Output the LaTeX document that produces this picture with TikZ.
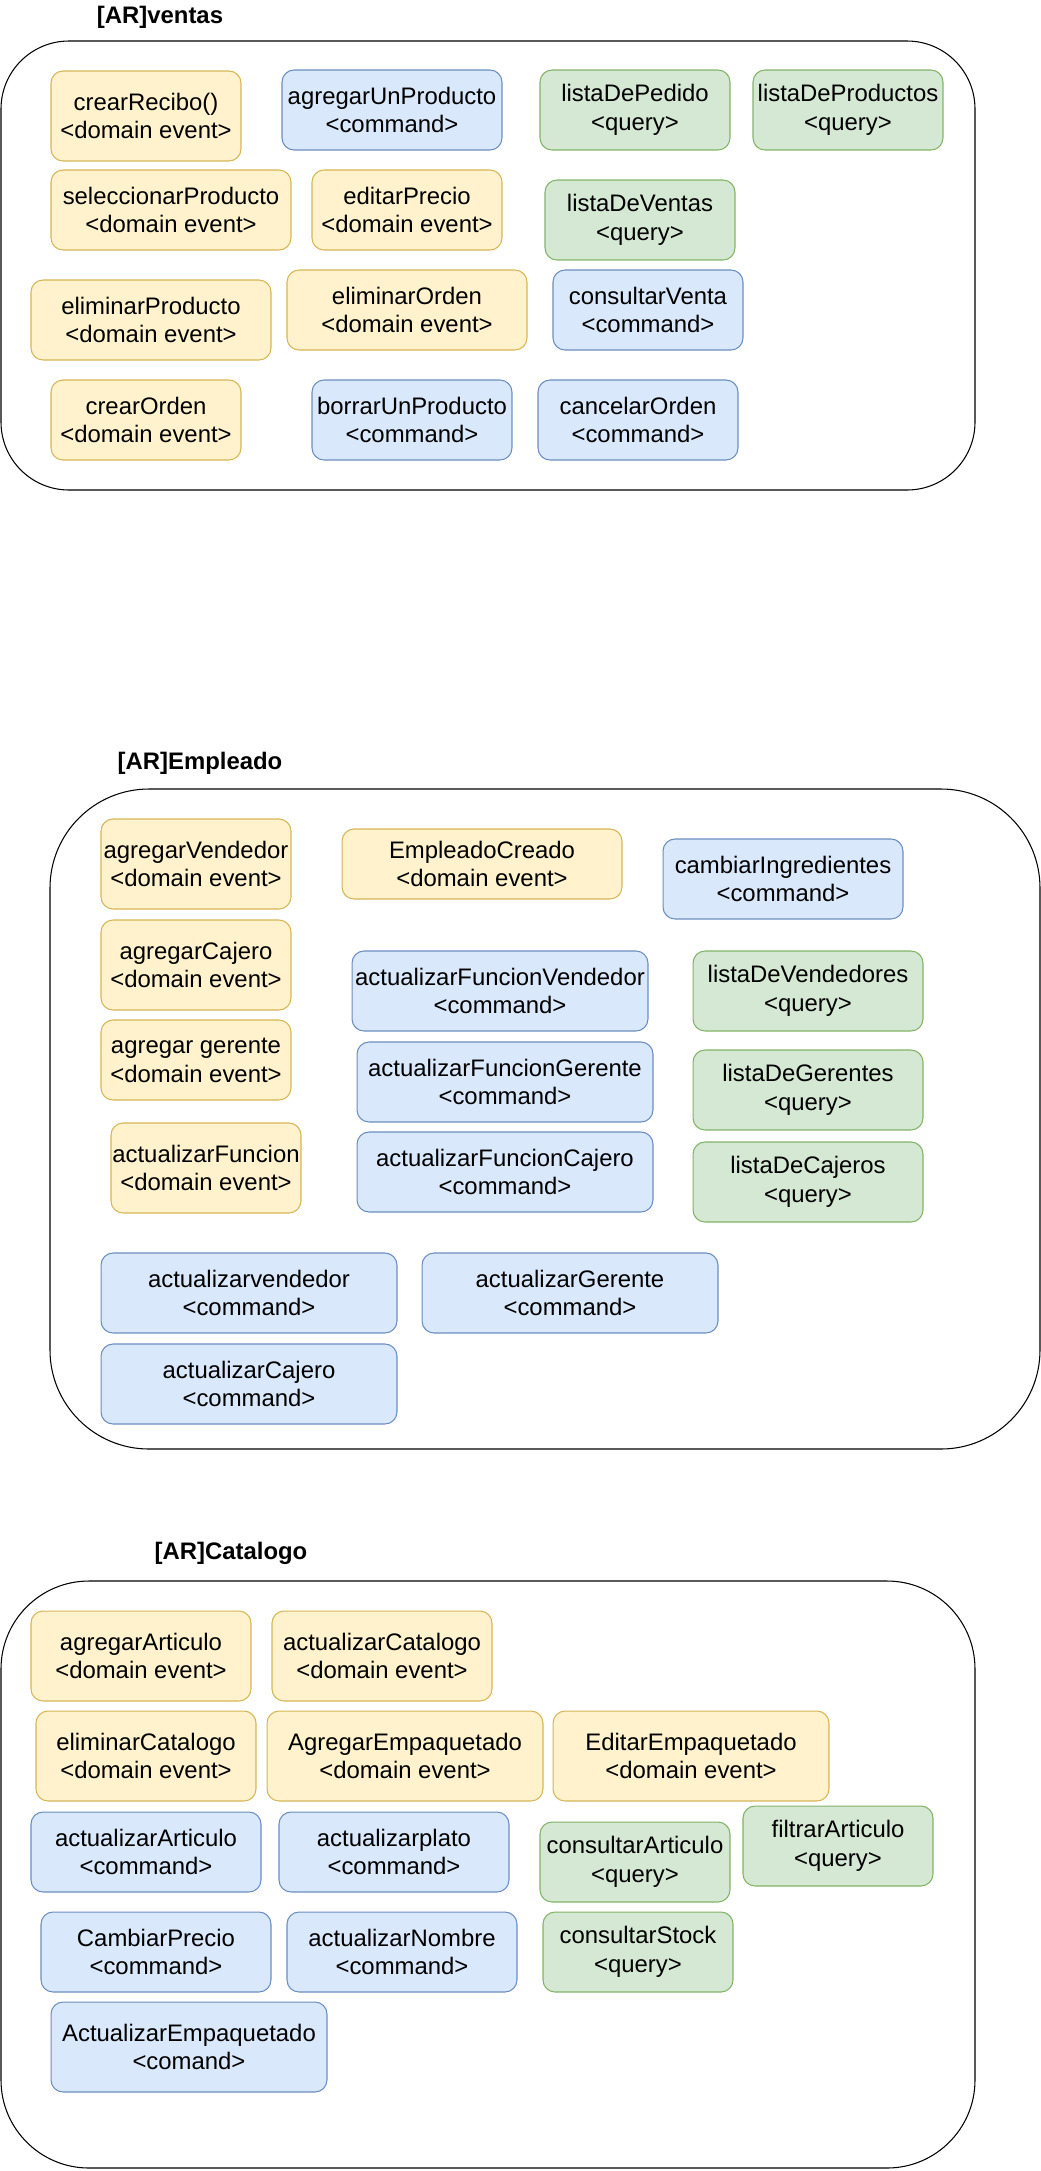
\documentclass[tikz,border=0pt]{standalone}
\usepackage{fontspec}
\setmainfont{Liberation Sans}
\usepackage{tikz}
\usetikzlibrary{positioning}
\usepackage{xcolor}
\definecolor{evfill}{HTML}{FFF2CC}
\definecolor{evline}{HTML}{D6B656}
\definecolor{cmdfill}{HTML}{DAE8FC}
\definecolor{cmdline}{HTML}{6C8EBF}
\definecolor{qryfill}{HTML}{D5E8D4}
\definecolor{qryline}{HTML}{82B366}
\tikzstyle{container} = [draw=black, line width=0.6pt]

\begin{document}
\begin{tikzpicture}[
    x=0.02cm, y=-0.02cm,
    every node/.style={font=\fontsize{13.6pt}{16.4pt}\selectfont},
    sticky/.style={rectangle, rounded corners=0.24cm, line width=0.6pt, align=center, inner sep=0pt, minimum height=1.6cm},
    evt/.style={sticky, draw=evline, fill=evfill},
    cmd/.style={sticky, draw=cmdline, fill=cmdfill},
    qry/.style={sticky, draw=qryline, fill=qryfill},
    title/.style={font=\fontsize{13.6pt}{16.4pt}\selectfont\bfseries}
]
\useasboundingbox (0,0) rectangle (1041,2171);

% [AR]ventas
\node[title] (tventas) at (160,17) {[AR]ventas};
\draw[container, rounded corners=1.36cm] (1,41) rectangle (975,490);

\node[evt, minimum width=3.8cm, minimum height=1.8cm] (crearRecibo) at (146,116) {crearRecibo()\\<domain event>};
\node[cmd, minimum width=4.4cm] (agregarUnProducto) at (392,110) {agregarUnProducto\\<command>};
\node[qry, minimum width=3.8cm] (listaDePedido) at (635,110) {listaDePedido\\<query>};
\node[qry, minimum width=3.8cm] (listaDeProductos) at (848,110) {listaDeProductos\\<query>};
\node[evt, minimum width=4.8cm] (seleccionarProducto) at (171,210) {seleccionarProducto\\<domain event>};
\node[evt, minimum width=3.8cm] (editarPrecio) at (407,210) {editarPrecio\\<domain event>};
\node[qry, minimum width=3.8cm] (listaDeVentas) at (640,220) {listaDeVentas\\<query>};
\node[evt, minimum width=4.8cm] (eliminarProducto) at (151,320) {eliminarProducto\\<domain event>};
\node[evt, minimum width=4.8cm] (eliminarOrden) at (407,310) {eliminarOrden\\<domain event>};
\node[cmd, minimum width=3.8cm] (consultarVenta) at (648,310) {consultarVenta\\<command>};
\node[evt, minimum width=3.8cm] (crearOrden) at (146,420) {crearOrden\\<domain event>};
\node[cmd, minimum width=4.0cm] (borrarUnProducto) at (412,420) {borrarUnProducto\\<command>};
\node[cmd, minimum width=4.0cm] (cancelarOrden) at (638,420) {cancelarOrden\\<command>};

% [AR]Empleado
\node[title] (templeado) at (200,763) {[AR]Empleado};
\draw[container, rounded corners=1.98cm] (50,789) rectangle (1040,1449);

\node[evt, minimum width=3.8cm, minimum height=1.8cm] (agregarVendedor) at (196,864) {agregarVendedor\\<domain event>};
\node[evt, minimum width=5.6cm, minimum height=1.4cm] (empleadoCreado) at (482,864) {EmpleadoCreado\\<domain event>};
\node[cmd, minimum width=4.8cm] (cambiarIngredientes) at (783,879) {cambiarIngredientes\\<command>};
\node[evt, minimum width=3.8cm, minimum height=1.8cm] (agregarCajero) at (196,965) {agregarCajero\\<domain event>};
\node[cmd, minimum width=5.92cm] (actFuncionVendedor) at (500,991) {actualizarFuncionVendedor\\<command>};
\node[qry, minimum width=4.6cm] (listaDeVendedores) at (808,991) {listaDeVendedores\\<query>};
\node[evt, minimum width=3.8cm] (agregarGerente) at (196,1060) {agregar gerente\\<domain event>};
\node[cmd, minimum width=5.92cm] (actFuncionGerente) at (505,1082) {actualizarFuncionGerente\\<command>};
\node[qry, minimum width=4.6cm] (listaDeGerentes) at (808,1090) {listaDeGerentes\\<query>};
\node[evt, minimum width=3.8cm, minimum height=1.8cm] (actFuncion) at (206,1168) {actualizarFuncion\\<domain event>};
\node[cmd, minimum width=5.92cm] (actFuncionCajero) at (505,1172) {actualizarFuncionCajero\\<command>};
\node[qry, minimum width=4.6cm] (listaDeCajeros) at (808,1182) {listaDeCajeros\\<query>};
\node[cmd, minimum width=5.92cm] (actVendedor) at (249,1293) {actualizarvendedor\\<command>};
\node[cmd, minimum width=5.92cm] (actGerente) at (570,1293) {actualizarGerente\\<command>};
\node[cmd, minimum width=5.92cm] (actCajero) at (249,1384) {actualizarCajero\\<command>};

% [AR]Catalogo
\node[title] (tcatalogo) at (231,1553) {[AR]Catalogo};
\draw[container, rounded corners=1.76cm] (1,1581) rectangle (975,2168);

\node[evt, minimum width=4.4cm, minimum height=1.8cm] (agregarArticulo) at (141,1656) {agregarArticulo\\<domain event>};
\node[evt, minimum width=4.4cm, minimum height=1.8cm] (actCatalogo) at (382,1656) {actualizarCatalogo\\<domain event>};
\node[evt, minimum width=4.4cm, minimum height=1.8cm] (eliminarCatalogo) at (146,1756) {eliminarCatalogo\\<domain event>};
\node[evt, minimum width=5.52cm, minimum height=1.8cm] (agregarEmpaq) at (405,1756) {AgregarEmpaquetado\\<domain event>};
\node[evt, minimum width=5.52cm, minimum height=1.8cm] (editarEmpaq) at (691,1756) {EditarEmpaquetado\\<domain event>};
\node[cmd, minimum width=4.6cm] (actArticulo) at (146,1852) {actualizarArticulo\\<command>};
\node[cmd, minimum width=4.6cm] (actPlato) at (394,1852) {actualizarplato\\<command>};
\node[qry, minimum width=3.8cm] (consultarArticulo) at (635,1862) {consultarArticulo\\<query>};
\node[qry, minimum width=3.8cm] (filtrarArticulo) at (838,1846) {filtrarArticulo\\<query>};
\node[cmd, minimum width=4.6cm] (cambiarPrecio) at (156,1952) {CambiarPrecio\\<command>};
\node[cmd, minimum width=4.6cm] (actNombre) at (402,1952) {actualizarNombre\\<command>};
\node[qry, minimum width=3.8cm] (consultarStock) at (638,1952) {consultarStock\\<query>};
\node[cmd, minimum width=5.52cm, minimum height=1.8cm] (actEmpaq) at (189,2047) {ActualizarEmpaquetado\\<comand>};

\end{tikzpicture}
\end{document}
